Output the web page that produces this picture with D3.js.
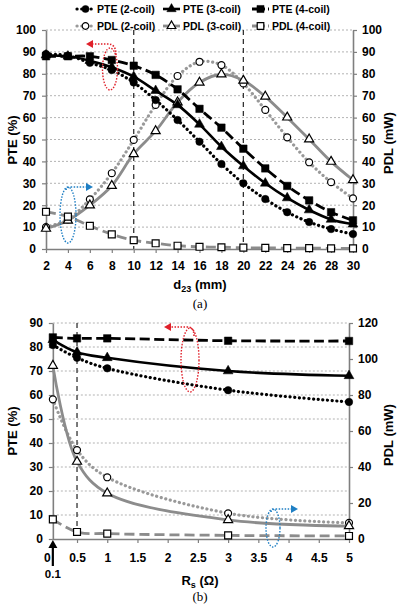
<!DOCTYPE html>
<html><head><meta charset="utf-8">
<script src="https://cdn.jsdelivr.net/npm/d3@7"></script>
<style>
body{margin:0;background:#fff;}
text{font-family:"Liberation Sans",Arial,sans-serif;font-weight:bold;fill:#000;}
text.serif{font-family:"Liberation Serif","Times New Roman",serif;font-weight:normal;}
</style></head>
<body><svg id="c" width="400" height="605"></svg>
<script>
// ---------- Data: chart (a) ----------
const d23 = [2,4,6,8,10,12,14,16,18,20,22,24,26,28,30];
const pte2coilA = [89,88.3,85,81.7,76,68,58.9,49,38.8,30,22.8,16.8,12.3,9.1,6.8];
const pte3coilA = [88.5,88,86,83,78.7,72.3,65.8,56.9,46.7,37.9,30,23.3,17.8,13.5,11.3];
const pte4coilA = [88,88,88,86.3,83.7,79.5,72.9,64,55.4,45.8,36.8,28.8,22.2,16.8,13.1];
const pdl2coilA = [10,13.5,22.7,34.6,49.8,65.8,79,85.5,84,75.6,63.5,51,39.6,30.5,23.1];
const pdl3coilA = [9.3,13,20,28.9,43.4,53.9,67,76,79.8,76.9,69.6,60.1,50.1,39.9,31.5];
const pdl4coilA = [17,14.8,10.6,6.7,4,2.6,1.5,1,0.8,0.6,0.5,0.4,0.4,0.3,0.3];
const xTicksA = [2,4,6,8,10,12,14,16,18,20,22,24,26,28,30];
const yTicksA = [0,10,20,30,40,50,60,70,80,90,100];
const yTicksAR = [0,10,20,30,40,50,60,70,80,90,100];
const vLinesA = [10,20];

// ---------- Data: chart (b) ----------
const rs = [0.1,0.5,1,3,5];
const pte2coilB = [80.8,75.5,71.1,62,57.1];
const pte3coilB = [83,77.8,75.5,70,68];
const pte4coilB = [84,83.6,83.6,82.6,82.5];
const pdl2coilB = [77.6,49.4,34.3,14.3,9];
const pdl3coilB = [96.3,43,25.4,10.6,7.2];
const pdl4coilB = [10.9,3.9,3,2,1.7];
const xTicksB = [0,0.5,1,1.5,2,2.5,3,3.5,4,4.5,5];
const yTicksB = [0,10,20,30,40,50,60,70,80,90];
const yTicksBR = [0,20,40,60,80,100,120];
const vLinesB = [0.5];

const legendLabels = ["PTE (2-coil)","PTE (3-coil)","PTE (4-coil)","PDL (2-coil)","PDL (3-coil)","PDL (4-coil)"];

const svg = d3.select("#c");
const GREY = "#8c8c8c";
const AX = "#7f7f7f";

const styles = [
  {color:"#000", dash:"0.1,4.6", cap:"round", w:3.2, sym:d3.symbolCircle, size:44, fill:"#000"},
  {color:"#000", dash:null, cap:"butt", w:2.6, sym:d3.symbolTriangle, size:42, fill:"#000"},
  {color:"#000", dash:"10,4.5", cap:"butt", w:2.8, sym:d3.symbolSquare, size:56, fill:"#000"},
  {color:"#999", dash:"0.1,4.6", cap:"round", w:3.2, sym:d3.symbolCircle, size:38, fill:"#fff"},
  {color:GREY, dash:null, cap:"butt", w:2.8, sym:d3.symbolTriangle, size:36, fill:"#fff"},
  {color:GREY, dash:"10,5", cap:"butt", w:2.8, sym:d3.symbolSquare, size:48, fill:"#fff"}
];

function drawSeries(g, xs, ys, x, y, st){
  const line = d3.line().x((d,i)=>x(xs[i])).y(d=>y(d)).curve(d3.curveCatmullRom.alpha(0.5));
  g.append("path").attr("d", line(ys)).attr("fill","none")
    .attr("stroke", st.color).attr("stroke-width", st.w)
    .attr("stroke-dasharray", st.dash).attr("stroke-linecap", st.cap);
}
function drawMarkers(g, xs, ys, x, y, st){
  g.selectAll(null).data(ys).join("path")
    .attr("d", d3.symbol(st.sym, st.size))
    .attr("transform",(d,i)=>`translate(${x(xs[i])},${y(d)})`)
    .attr("fill", st.fill).attr("stroke", "#000").attr("stroke-width", st.fill==="#fff"?1.2:0.5);
}

function panel(cfg){
  const g = svg.append("g");
  const {x,y,yR} = cfg;
  const [x0,x1] = [cfg.axisX0, cfg.axisX1];
  g.selectAll(null).data(cfg.yTicks.filter(v=>v>0)).join("line")
    .attr("x1",x0).attr("x2",x1).attr("y1",d=>y(d)).attr("y2",d=>y(d))
    .attr("stroke","#a0a0a0").attr("stroke-width",0.8).attr("stroke-dasharray","2,2");
  g.selectAll(null).data(cfg.vLines).join("line")
    .attr("x1",d=>x(d)).attr("x2",d=>x(d)).attr("y1",y.range()[1]).attr("y2",y.range()[0])
    .attr("stroke","#333").attr("stroke-width",1.3).attr("stroke-dasharray","5,4");
  const yl = g.append("g").attr("transform",`translate(${x0},0)`)
    .call(d3.axisLeft(y).tickValues(cfg.yTicks).tickSize(4).tickSizeOuter(0).tickPadding(6));
  const yr = g.append("g").attr("transform",`translate(${x1},0)`)
    .call(d3.axisRight(yR).tickValues(cfg.yTicksR).tickSize(4).tickSizeOuter(0).tickPadding(5));
  const xa = g.append("g").attr("transform",`translate(0,${y.range()[0]})`)
    .call(d3.axisBottom(x).tickValues(cfg.xTicks).tickSize(4).tickSizeOuter(0).tickPadding(cfg.xPad)
      .tickFormat(cfg.xFmt));
  xa.select(".domain").attr("d",`M${x0},0.5H${x1}`);
  [yl,yr,xa].forEach(a=>{
    a.select(".domain").attr("stroke",AX).attr("stroke-width",1.6);
    a.selectAll(".tick line").attr("stroke",AX).attr("stroke-width",1.2);
    a.selectAll("text").attr("font-size",12).attr("font-family","Liberation Sans, Arial, sans-serif").attr("font-weight","bold").attr("fill","#000");
  });
  if(cfg.hideZeroTick) xa.selectAll(".tick").filter(d=>d===0).select("line").remove();
  const ptes = cfg.pte, pdls = cfg.pdl;
  pdls.forEach((s,i)=>drawSeries(g, cfg.xs, s, x, yR, styles[3+i]));
  ptes.forEach((s,i)=>drawSeries(g, cfg.xs, s, x, y, styles[i]));
  pdls.forEach((s,i)=>drawMarkers(g, cfg.xs, s, x, yR, styles[3+i]));
  ptes.forEach((s,i)=>drawMarkers(g, cfg.xs, s, x, y, styles[i]));
  return g;
}

// Panel (a)
const xA = d3.scaleLinear([2,30],[46,353]);
const yA = d3.scaleLinear([0,100],[249,30]);
const yAR = d3.scaleLinear([0,100],[249,30]);
panel({x:xA,y:yA,yR:yAR,axisX0:46,axisX1:353,yTicks:yTicksA,yTicksR:yTicksAR,xTicks:xTicksA,
  vLines:vLinesA,xs:d23,pte:[pte2coilA,pte3coilA,pte4coilA],pdl:[pdl2coilA,pdl3coilA,pdl4coilA],
  xFmt:d3.format("d"),xPad:8});

// Panel (b)
const xB = d3.scaleLinear([0,5],[46.8,349]);
const yB = d3.scaleLinear([0,90],[539,323]);
const yBR = d3.scaleLinear([0,120],[539,323]);
panel({x:xB,y:yB,yR:yBR,axisX0:xB(0.1),axisX1:349,yTicks:yTicksB,yTicksR:yTicksBR,xTicks:xTicksB,
  vLines:vLinesB,xs:rs,pte:[pte2coilB,pte3coilB,pte4coilB],pdl:[pdl2coilB,pdl3coilB,pdl4coilB],
  xFmt:d=>d===0?"0":String(d),xPad:10,hideZeroTick:true});

function vtitle(x,y,t){svg.append("text").attr("transform",`translate(${x},${y}) rotate(-90)`).attr("text-anchor","middle").attr("font-size",13).text(t);}
vtitle(17,140,"PTE (%)");
vtitle(393,143,"PDL (mW)");
vtitle(17,431,"PTE (%)");
vtitle(393,435,"PDL (mW)");

const t1 = svg.append("text").attr("x",200).attr("y",289).attr("text-anchor","middle").attr("font-size",13);
t1.append("tspan").text("d");
t1.append("tspan").attr("font-size",9).attr("dy",3).text("23");
t1.append("tspan").attr("dy",-3).text(" (mm)");
const t2 = svg.append("text").attr("x",200).attr("y",585).attr("text-anchor","middle").attr("font-size",13);
t2.append("tspan").text("R");
t2.append("tspan").attr("font-size",9).attr("dy",3).text("s");
t2.append("tspan").attr("dy",-3).text(" (Ω)");

svg.append("text").attr("class","serif").attr("x",200).attr("y",308).attr("text-anchor","middle").attr("font-size",13).text("(a)");
svg.append("text").attr("class","serif").attr("x",200).attr("y",601).attr("text-anchor","middle").attr("font-size",13).text("(b)");

svg.append("line").attr("x1",xB(0.1)).attr("x2",xB(0.1)).attr("y1",566).attr("y2",546).attr("stroke","#000").attr("stroke-width",2.2);
svg.append("path").attr("d",`M${xB(0.1)-4.5},548 L${xB(0.1)},540 L${xB(0.1)+4.5},548 Z`).attr("fill","#000");
svg.append("text").attr("x",xB(0.1)).attr("y",578).attr("text-anchor","middle").attr("font-size",11.5).text("0.1");

const legX = [77,163,252], legTextX = [97,183,272], legY=[9,26];
legendLabels.forEach((lab,i)=>{
  const r = Math.floor(i/3), c = i%3, st = styles[i];
  const g = svg.append("g");
  g.append("line").attr("x1",legX[c]).attr("x2",legX[c]+17).attr("y1",legY[r]).attr("y2",legY[r])
    .attr("stroke",st.color).attr("stroke-width",st.w).attr("stroke-dasharray",st.dash? (st.cap==="round"?"0.1,4.6":"5,3"):null).attr("stroke-linecap",st.cap);
  g.append("path").attr("d",d3.symbol(st.sym, st.size*0.9)).attr("transform",`translate(${legX[c]+8.5},${legY[r]})`)
    .attr("fill",st.fill).attr("stroke","#000").attr("stroke-width",st.fill==="#fff"?1.2:0.5);
  g.append("text").attr("x",legTextX[c]).attr("y",legY[r]+4).attr("font-size",10.5).text(lab);
});

function arrowHead(x,y,dir,color){
  const d = dir<0 ? `M${x},${y} L${x+7},${y-4} L${x+7},${y+4} Z` : `M${x},${y} L${x-7},${y-4} L${x-7},${y+4} Z`;
  svg.append("path").attr("d",d).attr("fill",color);
}
function ann(cx,cy,rx,ry,path,hx,hy,dir,color){
  svg.append("ellipse").attr("cx",cx).attr("cy",cy).attr("rx",rx).attr("ry",ry)
    .attr("fill","none").attr("stroke",color).attr("stroke-width",1.4).attr("stroke-dasharray","1.5,1.5");
  svg.append("path").attr("d",path).attr("fill","none").attr("stroke",color).attr("stroke-width",1.6).attr("stroke-dasharray","1.5,1.5");
  arrowHead(hx,hy,dir,color);
}
const RED="#e0202a", BLUE="#1f7fc4";
ann(110,69,7.5,21,"M116,55 C116,47 113,44 108,44 L93,44",86,44,-1,RED);
ann(68,215,8,28,"M66,190 C66,188 68,187 71,187 L87,187",93,187,1,BLUE);
ann(190,360,9,32,"M194,336 C194,330 192,327 187,327 L170,327",164,327,-1,RED);
ann(273,528,7,19,"M271,512 C271,510 273,509 276,509 L292,509",298,509,1,BLUE);
</script></body></html>
